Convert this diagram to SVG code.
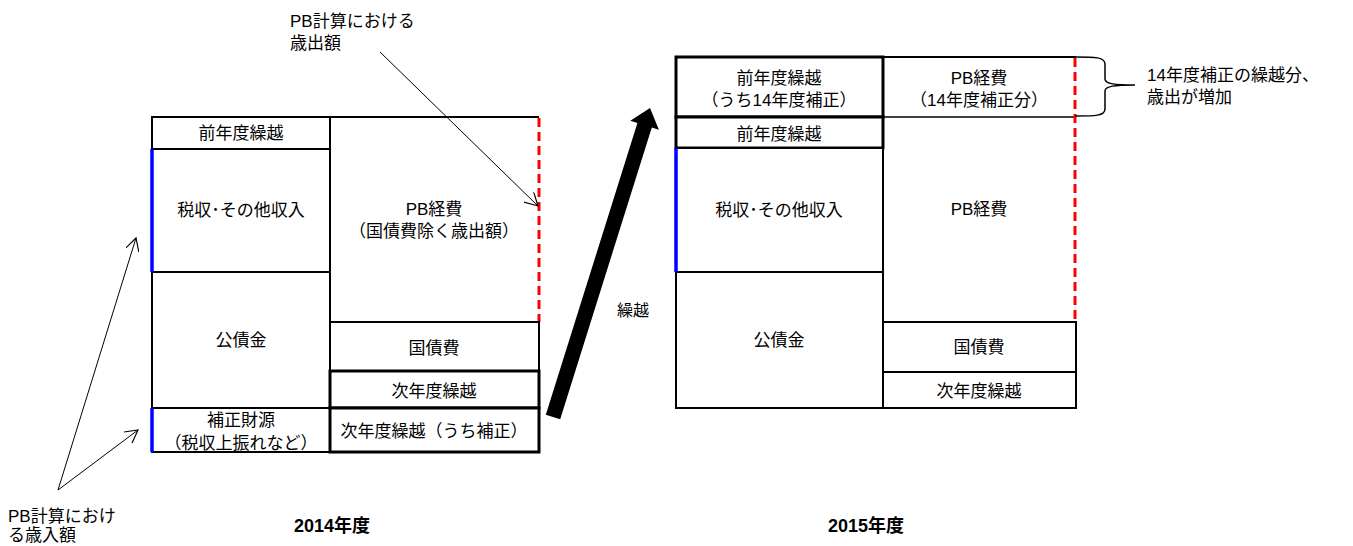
<svg xmlns="http://www.w3.org/2000/svg" width="1353" height="546" viewBox="0 0 1353 546">
<style>
text{font-family:"Liberation Sans","Noto Sans CJK JP",sans-serif;fill:#000}
.bx{font-size:17px;text-anchor:middle}
.an{font-size:17px}
.yr{font-size:18px;font-weight:bold}
.b2{fill:#fff;stroke:#000;stroke-width:2}
.b3{fill:#fff;stroke:#000;stroke-width:3}
.ln{stroke:#000;stroke-width:2;fill:none}
.red{stroke:#ff0000;stroke-width:3;stroke-dasharray:9 5;fill:none}
.blue{stroke:#0000ff;stroke-width:3.5;fill:none}
.con{stroke:#000;stroke-width:1;fill:none}
</style>
<defs>
<marker id="oa" markerUnits="userSpaceOnUse" markerWidth="14" markerHeight="14" refX="11" refY="6" orient="auto" viewBox="0 0 12 12">
<path d="M0,0 L11,6 L0,12" fill="none" stroke="#000" stroke-width="1"/>
</marker>
</defs>
<rect width="1353" height="546" fill="#fff"/>

<!-- 2014 -->
<g id="y14-zennendo"><rect class="b2" x="152" y="117" width="178" height="32"/><text class="bx" x="241" y="139">前年度繰越</text></g>
<g id="y14-zeishu"><rect class="b2" x="152" y="149" width="178" height="123"/><text class="bx" x="241" y="216">税収･その他収入</text></g>
<g id="y14-kousai"><rect class="b2" x="152" y="272" width="178" height="136"/><text class="bx" x="241" y="346">公債金</text></g>
<g id="y14-hosei"><rect class="b2" x="152" y="408" width="178" height="44"/><text class="bx" x="241" y="426">補正財源</text><text class="bx" x="241" y="449">（税収上振れなど）</text></g>
<g id="y14-pb"><path class="ln" d="M330,117 H539 M330,117 V322"/><path class="red" d="M539,118 V322"/><text class="bx" x="434" y="215">PB経費</text><text class="bx" x="434" y="237">（国債費除く歳出額）</text></g>
<g id="y14-kokusai"><rect class="b2" x="330" y="322" width="209" height="49"/><text class="bx" x="434" y="354">国債費</text></g>
<g id="y14-jinendo"><rect class="b3" x="330" y="371" width="209" height="37"/><text class="bx" x="434" y="397">次年度繰越</text></g>
<g id="y14-jinendo-hosei"><rect class="b3" x="330" y="408" width="209" height="44"/><text class="bx" x="434" y="437">次年度繰越（うち補正）</text></g>
<g id="y14-blue"><path class="blue" d="M152,149 V272 M152,408 V452"/></g>
<g id="y14-label"><text class="yr" x="294" y="532">2014年度</text></g>

<!-- 2015 -->
<g id="y15-zennendo-hosei"><rect class="b3" x="676" y="57" width="207" height="60"/><text class="bx" x="779" y="84">前年度繰越</text><text class="bx" x="779" y="106">（うち14年度補正）</text></g>
<g id="y15-zennendo"><rect class="b3" x="676" y="117" width="207" height="31"/><text class="bx" x="779" y="140">前年度繰越</text></g>
<g id="y15-zeishu"><rect class="b2" x="676" y="148" width="207" height="124"/><text class="bx" x="779" y="216">税収･その他収入</text></g>
<g id="y15-kousai"><rect class="b2" x="676" y="272" width="207" height="136"/><text class="bx" x="779" y="346">公債金</text></g>
<g id="y15-pb-hosei"><path class="ln" d="M883,57 H1076"/><path d="M883,117 H1076" stroke="#000" stroke-width="1.5"/><text class="bx" x="979" y="84">PB経費</text><text class="bx" x="979" y="106">（14年度補正分）</text></g>
<g id="y15-pb"><path class="ln" d="M883,57 V322"/><text class="bx" x="979" y="215">PB経費</text></g>
<g id="y15-red"><path class="red" d="M1075,58 V322"/></g>
<g id="y15-kokusai"><rect class="b2" x="883" y="322" width="193" height="50"/><text class="bx" x="979" y="353">国債費</text></g>
<g id="y15-jinendo"><rect class="b2" x="883" y="372" width="193" height="36"/><text class="bx" x="979" y="397">次年度繰越</text></g>
<g id="y15-blue"><path class="blue" d="M676,148 V272"/></g>
<g id="y15-label"><text class="yr" x="828" y="532">2015年度</text></g>

<!-- annotations -->
<g id="note-expenditure"><text class="an" x="290" y="27">PB計算における</text><text class="an" x="290" y="49">歳出額</text></g>
<g id="note-revenue"><text class="an" x="8" y="522">PB計算におけ</text><text class="an" x="8" y="541">る歳入額</text></g>
<g id="note-increase"><text class="an" x="1147" y="81" font-size="18">14年度補正の繰越分、</text><text class="an" x="1147" y="103" font-size="18">歳出が増加</text></g>
<g id="label-carry"><text x="617" y="316" font-size="16">繰越</text></g>

<!-- connectors -->
<g id="connectors">
<line class="con" x1="380" y1="52" x2="538" y2="206" marker-end="url(#oa)"/>
<line class="con" x1="58" y1="490" x2="136" y2="238" marker-end="url(#oa)"/>
<line class="con" x1="58" y1="490" x2="138" y2="430" marker-end="url(#oa)"/>
<path d="M1075,57 C1095,57 1105,57 1105,64 L1105,79 C1105,84 1115,85 1135,85 C1115,85 1105,86 1105,91 L1105,109 C1105,116 1095,116 1075,116" fill="none" stroke="#000" stroke-width="1.5"/>
<polygon points="545.8,414.8 560.2,419.2 651.8,127.4 658.9,129.7 650,108 630.3,120.7 637.4,123" fill="#000"/>
</g>
</svg>
